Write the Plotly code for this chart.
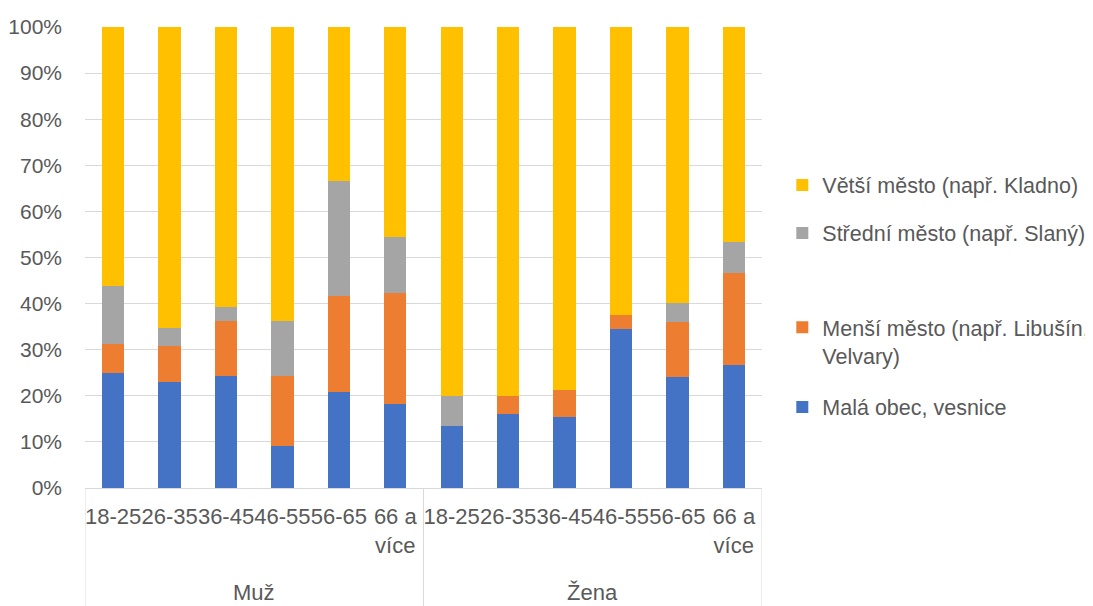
import plotly.graph_objects as go

# ---- data (percent shares) ----
genders = ["Muž"] * 6 + ["Žena"] * 6
ages = ["18-25", "26-35", "36-45", "46-55", "56-65", "66 a<br>více"] * 2

series_names = [
    "Malá obec, vesnice",
    "Menší město (např. Libušín,<br>Velvary)",
    "Střední město (např. Slaný)",
    "Větší město (např. Kladno)",
]
mala_obec = [25.0, 23.1, 24.3, 9.2, 20.9, 18.3, 13.4, 16.1, 15.3, 34.4, 24.0, 26.7]
mensi_mesto = [6.3, 7.7, 12.0, 15.0, 20.8, 24.1, 0.0, 3.9, 5.9, 3.1, 12.0, 20.0]
stredni_mesto = [12.5, 3.8, 3.0, 12.1, 24.9, 12.0, 6.6, 0.0, 0.0, 0.0, 4.1, 6.7]
vetsi_mesto = [round(100 - a - b - c, 1) for a, b, c in zip(mala_obec, mensi_mesto, stredni_mesto)]

colors = ["#4472C4", "#ED7D31", "#A5A5A5", "#FFC000"]
values = [mala_obec, mensi_mesto, stredni_mesto, vetsi_mesto]
legend_ids = ["legend2", "legend2", "legend", "legend"]

x = list(range(len(ages)))
TXT = "#595959"
GRID = "#d9d9d9"
FONT = "Liberation Sans"
LFS = 21.5

fig = go.Figure()
for k, (name, vals, col, lg) in enumerate(zip(series_names, values, colors, legend_ids)):
    fig.add_bar(x=x, y=vals, name=name, marker_color=col, marker_line_width=0,
                legendgroup=name, legend=lg, legendrank=len(series_names) - k,
                hoverinfo="y+name")

# group dividers and labels
groups = []
for i, g in enumerate(genders):
    if not groups or groups[-1][0] != g:
        groups.append([g, i, i])
    else:
        groups[-1][2] = i

shapes = []
annotations = []
bounds = sorted({grp[1] - 0.5 for grp in groups} | {grp[2] + 0.5 for grp in groups})
for b in bounds:
    shapes.append(dict(type="line", xref="x", yref="paper", x0=b, x1=b, y0=0, y1=-0.3,
                       line=dict(color=GRID, width=1)))
for g, i0, i1 in groups:
    annotations.append(dict(text=g, xref="x", yref="paper", x=(i0 + i1) / 2, y=0,
                            yanchor="top", yshift=-90, showarrow=False,
                            font=dict(family=FONT, size=22, color=TXT)))

legend_common = dict(traceorder="grouped", x=1.03, xanchor="left", yanchor="middle",
                     valign="top",
                     font=dict(family=FONT, size=LFS, color=TXT),
                     bgcolor="rgba(0,0,0,0)")

# page body adds an 8px offset, so the figure is 8px smaller and margins shifted
fig.update_layout(
    barmode="stack",
    bargap=0.605,
    width=1085, height=598,
    margin=dict(l=77, r=331, t=19, b=118, autoexpand=False),
    paper_bgcolor="white", plot_bgcolor="white",
    font=dict(family=FONT, size=21, color=TXT),
    showlegend=True,
    legend=dict(y=0.605, tracegroupgap=17, **legend_common),
    legend2=dict(y=0.262, tracegroupgap=21, **legend_common),
    shapes=shapes,
    annotations=annotations,
)
fig.update_yaxes(range=[0, 100], dtick=10, ticksuffix="%", gridcolor=GRID, gridwidth=1,
                 zeroline=False, showline=False, ticks="", ticklabelstandoff=22,
                 tickfont=dict(family=FONT, size=21, color=TXT))
fig.update_xaxes(range=[-0.5, 11.5], tickvals=x, ticktext=ages, showgrid=False,
                 showline=True, linecolor=GRID, linewidth=1, ticks="", zeroline=False,
                 tickangle=0, ticklabelstandoff=9,
                 tickfont=dict(family=FONT, size=22, color=TXT))

fig.write_html("out.html")
